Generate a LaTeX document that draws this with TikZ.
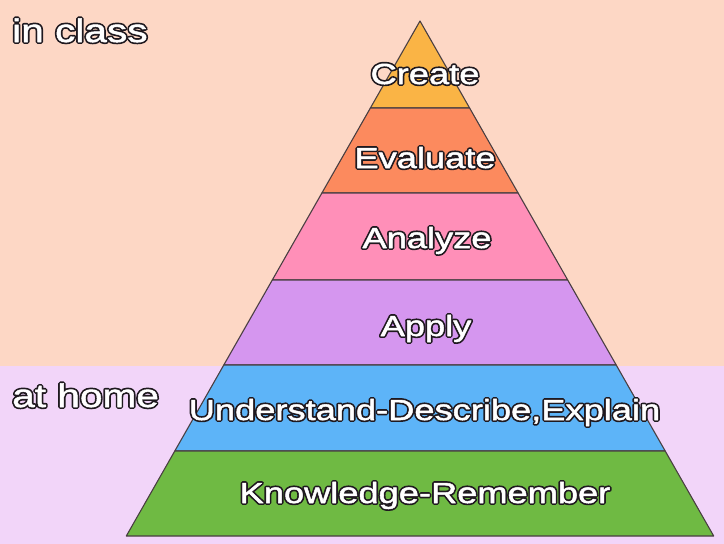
\documentclass[tikz,border=0pt]{standalone}
\usepackage{fontspec}
\setmainfont{Liberation Sans}[FakeStretch=1.25]
\definecolor{bgtop}{HTML}{FDD7C5}
\definecolor{bgbot}{HTML}{F2D5F9}
\definecolor{cCreate}{HTML}{FAB445}
\definecolor{cEval}{HTML}{FC8A5E}
\definecolor{cAnal}{HTML}{FF8FB8}
\definecolor{cApply}{HTML}{D596EF}
\definecolor{cUnder}{HTML}{5DB4F8}
\definecolor{cKnow}{HTML}{6FBA43}
\definecolor{edge}{HTML}{4A3F42}
\newcommand\olab[1]{\rlap{\special{pdf:literal direct 1 Tr 0.12 0.1 0.12 RG 3.9 w 1 j}#1\special{pdf:literal direct 0 Tr}}\special{pdf:literal direct 2 Tr 1 1 1 RG 0.5 w 1 j}#1\special{pdf:literal direct 0 Tr}}
\tikzset{
  layer/.style={draw=edge, line width=1.1pt, line join=round},
  lab/.style={font=\fontsize{29}{34}\selectfont, text=white, inner sep=0pt, anchor=base},
  side/.style={font=\fontsize{32.5}{38}\selectfont, text=white, inner sep=0pt, anchor=base west}
}
\begin{document}
\begin{tikzpicture}[x=1pt,y=-1pt]
\useasboundingbox (0,0) rectangle (724,544);
\fill[bgtop] (0,0) rectangle (724,366);
\fill[bgbot] (0,366) rectangle (724,544);
\filldraw[layer, fill=cCreate] (420,21) -- (469.6,108) -- (370.4,108) -- cycle;
\filldraw[layer, fill=cEval] (370.4,108) -- (469.6,108) -- (518.1,193) -- (321.9,193) -- cycle;
\filldraw[layer, fill=cAnal] (321.9,193) -- (518.1,193) -- (567.7,280) -- (272.3,280) -- cycle;
\filldraw[layer, fill=cApply] (272.3,280) -- (567.7,280) -- (616.2,365) -- (223.8,365) -- cycle;
\filldraw[layer, fill=cUnder] (223.8,365) -- (616.2,365) -- (665.2,451) -- (174.8,451) -- cycle;
\filldraw[layer, fill=cKnow] (174.8,451) -- (665.2,451) -- (713.7,536) -- (126.3,536) -- cycle;
\node[lab] (create) at (425,84) {\olab{Create}};
\node[lab] (evaluate) at (425,168) {\olab{Evaluate}};
\node[lab] (analyze) at (427,248) {\olab{Analyze}};
\node[lab] (apply) at (426,336) {\olab{Apply}};
\node[lab] (understand) at (424.5,420) {\olab{Understand-Describe,Explain}};
\node[lab] (knowledge) at (425,503) {\olab{Knowledge-Remember}};
\node[side] (inclass) at (12,42) {\olab{in class}};
\node[side] (athome) at (12,407) {\olab{at home}};
\end{tikzpicture}
\end{document}
